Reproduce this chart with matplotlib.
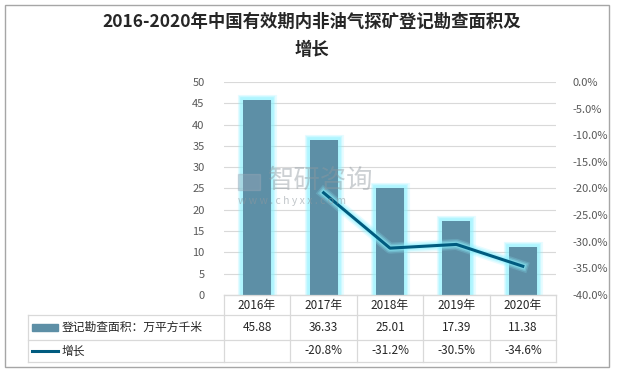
import matplotlib.pyplot as plt
import matplotlib.patheffects as pe
from matplotlib.patches import Rectangle
from matplotlib.lines import Line2D

plt.rcParams['font.family'] = ['Noto Sans CJK SC', 'DejaVu Sans']

years = ["2016年", "2017年", "2018年", "2019年", "2020年"]
area = [45.88, 36.33, 25.01, 17.39, 11.38]
growth = [None, -20.8, -31.2, -30.5, -34.6]
area_label = "登记勘查面积：万平方千米"
growth_label = "增长"
title = "2016-2020年中国有效期内非油气探矿登记勘查面积及\n增长"

W, H = 617, 372
fig = plt.figure(figsize=(W / 100, H / 100), dpi=100)


def fx(px):
    return px / W


def fy(py):
    return 1 - py / H


bar_color = "#5D8FA6"
line_color = "#005B7F"
glow = "#8DF2FF"
grey = "#595959"
grid = "#D9D9D9"


def soft_glow(widths):
    effs = [pe.Stroke(linewidth=w, foreground=glow, alpha=a) for w, a in widths]
    return effs + [pe.Normal()]


# outer border
fig.add_artist(Rectangle((fx(5), fy(367)), fx(604), 362 / H, transform=fig.transFigure,
                         fill=False, edgecolor="#A6A6A6", linewidth=1))

fig.text(fx(312), fy(22), title.split("\n")[0], ha="center", va="center",
         fontsize=12.5, fontweight="bold", color="#262626")
fig.text(fx(312), fy(50), title.split("\n")[1], ha="center", va="center",
         fontsize=12.5, fontweight="bold", color="#262626")

left, right, top, bottom = 224, 556, 82, 295
ax = fig.add_axes([fx(left), fy(bottom), (right - left) / W, (bottom - top) / H])
x = list(range(len(years)))
bars = ax.bar(x, area, width=0.42, color=bar_color, zorder=3)
for b in bars:
    b.set_path_effects(soft_glow([(8, 0.2), (6, 0.3), (4, 0.45)]))
ax.set_xlim(-0.5, len(years) - 0.5)
ax.set_ylim(0, 50)
ax.set_yticks(range(0, 51, 5))
ax.yaxis.grid(True, color=grid, linewidth=0.8, zorder=0)
ax.set_xticks([])
for s in ["top", "right", "left"]:
    ax.spines[s].set_visible(False)
ax.spines["bottom"].set_color(grid)
ax.tick_params(axis="y", length=0, labelsize=8, labelcolor=grey, pad=14)

ax2 = ax.twinx()
gx = [i for i, g in zip(x, growth) if g is not None]
gy = [g for g in growth if g is not None]
ax2.plot(gx, gy, color=line_color, linewidth=2.2, zorder=4,
         path_effects=soft_glow([(8, 0.2), (6, 0.3), (4, 0.45)]))
ax2.set_ylim(-40, 0)
ax2.set_yticks(range(-40, 1, 5))
ax2.set_yticklabels([f"{v:.1f}%" for v in range(-40, 1, 5)])
for s in ["top", "right", "left", "bottom"]:
    ax2.spines[s].set_visible(False)
ax2.tick_params(axis="y", length=0, labelsize=8, labelcolor=grey, pad=12)

# watermark
fig.add_artist(Rectangle((fx(238), fy(190)), fx(22), 16 / H, transform=fig.transFigure,
                         color="#9AA8B8", alpha=0.4, zorder=5))
fig.text(fx(268), fy(180), "智研咨询", fontsize=19, color="#8F989F", alpha=0.45,
         va="center", ha="left", zorder=5)
fig.text(fx(238), fy(201), "w w w . c h y x x . c o m", fontsize=7.5, color="#8F989F",
         alpha=0.55, va="center", ha="left", zorder=5)

# data table
cols = [224, 290, 357, 423, 490, 556]
rows = [295, 315, 340, 362]
tleft = 28
lc = "#D9D9D9"


def hline(x0, x1, y):
    fig.add_artist(Line2D([fx(x0), fx(x1)], [fy(y), fy(y)], color=lc, linewidth=0.9))


def vline(xp, y0, y1):
    fig.add_artist(Line2D([fx(xp), fx(xp)], [fy(y0), fy(y1)], color=lc, linewidth=0.9))


hline(cols[0], cols[-1], rows[0])
for r in rows[1:]:
    hline(tleft, cols[-1], r)
for c in cols:
    vline(c, rows[0], rows[-1])
vline(tleft, rows[1], rows[-1])

fs = 8.5
for i, yr in enumerate(years):
    cx = (cols[i] + cols[i + 1]) / 2
    fig.text(fx(cx), fy((rows[0] + rows[1]) / 2), yr, ha="center", va="center",
             fontsize=fs, color="#262626")
    fig.text(fx(cx), fy((rows[1] + rows[2]) / 2), f"{area[i]:.2f}", ha="center", va="center",
             fontsize=fs, color="#262626")
    if growth[i] is not None:
        fig.text(fx(cx), fy((rows[2] + rows[3]) / 2), f"{growth[i]:.1f}%", ha="center",
                 va="center", fontsize=fs, color="#262626")

ry1 = (rows[1] + rows[2]) / 2
fig.add_artist(Rectangle((fx(32), fy(ry1 + 3.5)), fx(26), 7 / H, transform=fig.transFigure,
                         color=bar_color))
fig.text(fx(62), fy(ry1), area_label, ha="left", va="center", fontsize=fs, color="#262626")
ry2 = (rows[2] + rows[3]) / 2
fig.add_artist(Line2D([fx(32), fx(58)], [fy(ry2), fy(ry2)], color=line_color, linewidth=2.2))
fig.text(fx(62), fy(ry2), growth_label, ha="left", va="center", fontsize=fs, color="#262626")

fig.savefig("out.png", dpi=100)
